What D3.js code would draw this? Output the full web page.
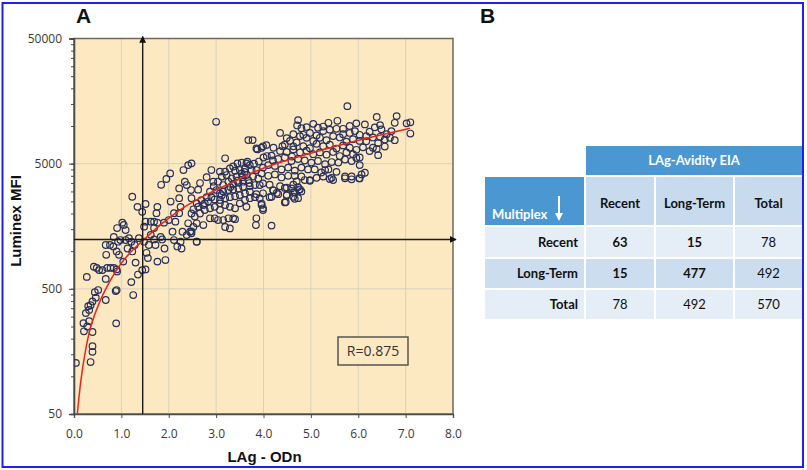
<!DOCTYPE html>
<html><head><meta charset="utf-8">
<script src="https://cdn.jsdelivr.net/npm/d3@7"></script>
<style>body{margin:0;background:#fff}svg{display:block}</style>
</head><body><svg id="c" width="807" height="470"></svg>
<script>
// ---------- data ----------
const xTickValues = [0, 1, 2, 3, 4, 5, 6, 7, 8];
const yTickValues = [50, 500, 5000, 50000];
const cutoffODn = 1.45;
const cutoffMFI = 1240;
const rText = "R=0.875";
const xTitle = "LAg - ODn";
const yTitle = "Luminex MFI";

// [LAg ODn, Luminex MFI]
const samples = [
[0.04,128],[0.35,130],[0.39,157],[0.39,174],[0.89,265],[0.39,226],[0.21,229],[0.28,250],[0.20,266],[0.32,276],
[0.25,320],[0.32,339],[0.35,370],[0.30,363],[0.39,396],[0.46,425],[0.44,470],[0.51,489],[0.67,407],[0.88,480],
[0.90,489],[1.25,446],[1.21,566],[0.27,623],[0.67,600],[0.42,752],[0.48,735],[0.53,706],[0.60,706],[0.70,735],
[0.77,735],[0.84,735],[0.90,715],[0.91,687],[1.04,825],[1.30,810],[1.44,706],[1.51,715],[1.35,650],[0.68,935],
[0.67,1120],[0.76,1120],[0.83,1090],[0.90,995],[0.95,935],[0.84,1300],[0.93,1190],[0.98,1227],[1.09,1227],[1.16,1270],
[1.21,1190],[1.13,1050],[1.23,995],[1.28,1120],[1.05,1620],[1.02,1690],[0.91,1530],[1.09,1475],[1.23,2720],[1.34,2260],
[1.44,2060],[1.51,2380],[1.76,2260],[1.74,2010],[1.84,3390],[2.04,2490],[2.22,2650],[2.22,3170],[1.37,1270],[1.48,1190],
[1.48,1570],[1.51,1720],[1.62,1720],[1.69,1530],[1.72,1120],[1.93,849],[1.76,825],[1.56,880],[1.58,1120],[1.83,1300],
[1.91,1050],[1.86,1240],[2.11,1227],[2.14,1720],[2.11,2010],[2.00,1772],[1.90,1690],[1.76,1690],[1.69,1720],[2.25,1190],
[2.18,1090],[2.29,1430],[2.25,2260],[2.22,2010],[1.62,1350],[1.69,1240],[1.53,970],[2.48,1440],[2.59,1190],[2.27,1050],
[2.08,1430],
[3.00,10800],[3.68,7715],[3.77,7715],[3.87,6500],[3.19,5520],[3.45,5030],[3.54,5090],[3.64,5030],[3.71,4870],[3.61,4580],
[3.50,4445],[3.40,4390],[3.29,4580],[3.19,4320],[3.08,4320],[3.12,3940],[3.22,4055],[3.33,3810],[3.43,3940],[3.54,4180],
[3.64,4055],[3.75,4445],[3.85,4445],[3.89,3810],[3.78,3940],[3.68,3700],[3.57,3590],[3.47,3520],[3.36,3440],[3.26,3590],
[3.15,3375],[3.04,3590],[2.94,3590],[2.90,4445],[2.48,5030],[2.41,4870],[2.31,4445],[2.03,4180],[1.95,3770],[2.34,3590],
[2.38,3375],[2.47,3077],[2.48,2650],[2.59,2410],[2.69,2560],[2.80,2700],[2.87,2990],[3.01,3077],[3.08,2890],[3.15,2990],
[3.26,3077],[3.36,3110],[3.47,3170],[3.57,3270],[3.71,3310],[3.82,3375],[3.92,3375],[3.71,2990],[3.61,2890],[3.50,2805],
[3.40,2740],[3.29,2700],[3.19,2650],[3.08,2560],[2.97,2590],[2.90,2700],[2.83,2490],[2.73,2335],[2.62,2260],[2.52,2160],
[2.48,2000],[2.55,1890],[2.66,2000],[2.76,2130],[2.87,2200],[2.97,2260],[3.08,2410],[3.19,2335],[3.29,2260],[3.40,2200],
[3.50,2410],[3.61,2560],[3.71,2650],[3.82,2700],[3.92,2650],[3.85,2850],[3.85,1830],[3.84,1616],[3.64,2260],[3.36,1830],
[3.26,1830],[3.15,1772],[3.04,1772],[3.19,1560],[3.29,1520],[3.40,1800],[2.73,1616],[2.59,1670],[2.52,1560],[2.41,1670],
[2.45,1430],[2.38,1345],[2.48,1390],[2.59,1190],[2.87,1830],[2.97,1830],[3.08,2130],[2.76,2410],
[2.66,3500],[2.80,3900],[2.95,3300],[2.62,3100],[3.55,3900],[3.90,5200],[4.00,5600],[3.80,5000],[3.60,4300],[3.45,3650],
[3.30,3250],[3.12,2800],[4.40,6900],[4.60,5700],[4.20,5300],[3.70,3500],
[4.17,1600],[3.99,2130],[3.96,2340],[4.47,2470],[4.17,2720],[4.20,3077],[4.31,2850],[4.45,3200],[4.59,3170],[4.66,2950],
[4.75,3077],[4.73,2650],[4.63,2720],[4.49,2820],[4.98,3700],[5.40,3770],[5.47,3700],[5.72,3820],[5.86,3950],[6.02,3820],
[6.07,4100],
[5.77,14400],[6.39,11800],[6.81,12000],[7.02,10500],[7.10,10700],[7.10,8700],[6.77,10600],[6.46,10160],[6.49,9400],[6.35,9750],
[6.24,9000],[6.14,10300],[5.96,10500],[5.82,10000],[5.68,9500],[5.56,11000],[5.37,10600],[5.26,9900],[5.15,9700],[5.05,10400],
[4.91,9800],[4.80,9600],[4.73,11140],[4.71,10100],[4.84,8500],[4.98,8800],[5.12,8400],[5.26,9100],[5.40,9350],[5.54,9500],
[5.68,8600],[5.82,8800],[5.93,9100],[6.03,8500],[6.17,8300],[6.31,8100],[6.46,8200],[6.56,7800],[6.67,8050],[6.77,7700],
[6.70,9100],[6.60,8600],[6.42,7300],[6.31,6700],[6.17,7550],[6.03,7600],[5.89,7850],[5.75,7500],[5.61,8100],[5.47,8300],
[5.33,7700],[5.19,8050],[5.05,7600],[4.91,8050],[4.77,8300],[4.63,8600],[4.49,8000],[4.35,8800],[4.45,7100],[4.56,7600],
[4.70,7400],[4.84,6900],[4.98,6650],[5.12,7200],[5.26,6900],[5.40,7100],[5.54,6600],[5.68,7000],[5.82,6700],[5.96,6450],
[6.10,6750],[6.24,6300],[6.39,6550],[6.56,6850],[6.42,5850],[6.03,5600],[5.89,5950],[5.75,6150],[5.61,5750],[5.47,6200],
[5.33,5900],[5.19,6150],[5.05,5950],[4.91,6350],[4.77,6150],[4.63,6500],[4.49,6200],[4.35,6300],[4.21,6700],[4.06,7035],
[3.96,6700],[4.17,5800],[4.31,5450],[4.45,5600],[4.59,5250],[4.73,5450],[4.87,5300],[5.01,5100],[5.15,5250],[5.30,4950],
[5.44,5150],[5.58,5100],[5.72,5400],[5.86,5250],[5.96,5550],[6.03,4870],[6.14,4230],[6.03,3810],[5.86,3750],[5.72,3950],
[5.54,4300],[5.44,3850],[5.37,4500],[5.22,4250],[5.08,4500],[4.94,4500],[4.80,4650],[4.66,4400],[4.52,4650],[4.38,4500],
[4.24,4800],[4.10,4870],[3.99,4650],[3.96,4180],[4.10,4000],[4.24,4100],[4.38,3880],[4.52,4000],[4.66,4000],[4.80,3950],
[4.98,3650],[5.12,3850],[5.26,3950],[5.30,4445],[3.99,3480],[4.13,3400],[4.21,3050],[4.35,3300],[4.49,3220],[4.63,3400],
[4.73,3250],[4.80,3000],[4.63,2950],[4.49,2780],[4.28,2920],[4.13,2700],[3.99,2900],[3.96,2400],[3.99,2200],[4.45,2450],
[4.66,2620],[4.77,3120],[4.70,3600],[4.87,3700],
[3.85,6610],[3.99,6880],[4.07,5750],[4.63,6880],[3.36,4750],[3.66,5180]
];

// fitted trend line [ODn, MFI]
const fitCurve = [
[0.07,50],[0.14,94],[0.25,170],[0.35,255],[0.53,390],[0.70,530],[0.88,690],[1.05,860],[1.27,1050],[1.48,1240],
[1.69,1470],[1.90,1720],[2.11,1960],[2.32,2260],[2.87,2950],[3.29,3450],[3.71,4150],[4.06,4730],[4.63,5520],
[5.33,6600],[6.03,7750],[6.74,8950],[7.09,9580]
];

// table
const tableTitle = "LAg-Avidity EIA";
const rowHeader = "Multiplex";
const colLabels = ["Recent", "Long-Term", "Total"];
const rowLabels = ["Recent", "Long-Term", "Total"];
const counts = [[63, 15, 78], [15, 477, 492], [78, 492, 570]];
const boldCell = [[true, true, false], [true, true, false], [false, false, false]];

// ---------- drawing ----------
const svg = d3.select("#c");
svg.append("rect").attr("x",0).attr("y",0).attr("width",807).attr("height",470).attr("fill","#fff");
svg.append("rect").attr("x",2.5).attr("y",3).attr("width",800.5).attr("height",464)
  .attr("fill","none").attr("stroke","#1f1ff0").attr("stroke-width",2);

const L = 74, R = 453, T = 38.5, B = 414;
const x = d3.scaleLinear().domain([0, 8]).range([L, R]);
const y = d3.scaleLog().domain([50, 50000]).range([B, T]);

const defs = svg.append("defs");
defs.append("clipPath").attr("id","plotclip").append("rect")
  .attr("x",L).attr("y",T).attr("width",R-L).attr("height",B-T);
defs.append("marker").attr("id","arr").attr("viewBox","0 0 10 10").attr("refX",9).attr("refY",5)
  .attr("markerWidth",7).attr("markerHeight",7).attr("markerUnits","userSpaceOnUse").attr("orient","auto")
  .append("path").attr("d","M0,0L10,5L0,10z").attr("fill","#111");

const g = svg.append("g");
g.append("rect").attr("x",L).attr("y",T).attr("width",R-L).attr("height",B-T).attr("fill","#fce9c1");

// grid
g.append("g").selectAll("line").data(xTickValues.slice(1, -1)).join("line")
  .attr("x1",d=>x(d)).attr("x2",d=>x(d)).attr("y1",T).attr("y2",B)
  .attr("stroke","#d9d1bf").attr("stroke-width",1);
g.append("g").selectAll("line").data(yTickValues.slice(1, -1)).join("line")
  .attr("x1",L).attr("x2",R).attr("y1",d=>y(d)).attr("y2",d=>y(d))
  .attr("stroke","#d9d1bf").attr("stroke-width",1);

// frame
g.append("rect").attr("x",L).attr("y",T).attr("width",R-L).attr("height",B-T)
  .attr("fill","none").attr("stroke","#716858").attr("stroke-width",1.5);

// axes
const xAxis = d3.axisBottom(x).tickValues(xTickValues).tickFormat(d3.format(".1f")).tickSize(4).tickPadding(11);
const gx = g.append("g").attr("transform",`translate(0,${B})`).call(xAxis);
const minorY = [];
yTickValues.slice(0, -1).forEach(v => { for (let k = 1; k <= 10; k++) minorY.push(v * k); });
const gym = g.append("g").attr("transform",`translate(${L},0)`)
  .call(d3.axisLeft(y).tickValues(minorY).tickSize(3).tickFormat(""));
const gy = g.append("g").attr("transform",`translate(${L},0)`)
  .call(d3.axisLeft(y).tickValues(yTickValues).tickFormat(d3.format("d")).tickSize(5).tickPadding(7));
[gx, gy, gym].forEach(a => {
  a.select(".domain").attr("stroke","#4a4a4a").attr("stroke-width",1.3);
  a.selectAll(".tick line").attr("stroke","#4a4a4a");
  a.selectAll("text").attr("font-family","'Open Sans', sans-serif").attr("font-size",12).attr("fill","#3a3a3a");
});

// points
const pg = g.append("g").attr("clip-path","url(#plotclip)");
pg.selectAll("circle").data(samples).join("circle")
  .attr("cx",d=>x(d[0])).attr("cy",d=>y(d[1])).attr("r",3.3)
  .attr("fill","none").attr("stroke","#28315c").attr("stroke-width",1.2);

// fit curve
pg.append("path").datum(fitCurve)
  .attr("d", d3.line().x(d=>x(d[0])).y(d=>y(d[1])).curve(d3.curveBasis))
  .attr("fill","none").attr("stroke","#e8261e").attr("stroke-width",1.5);

// cut-off lines
g.append("line").attr("x1",x(cutoffODn)).attr("x2",x(cutoffODn)).attr("y1",B).attr("y2",T-2)
  .attr("stroke","#1a1a1a").attr("stroke-width",1.4).attr("marker-end","url(#arr)");
g.append("line").attr("x1",L).attr("x2",R+3).attr("y1",y(cutoffMFI)).attr("y2",y(cutoffMFI))
  .attr("stroke","#1a1a1a").attr("stroke-width",1.4).attr("marker-end","url(#arr)");

// R box
g.append("rect").attr("x",338).attr("y",337).attr("width",70).attr("height",28)
  .attr("fill","#fce9c1").attr("stroke","#555").attr("stroke-width",1.5);
g.append("text").attr("x",373).attr("y",356).attr("text-anchor","middle")
  .attr("font-family","'Open Sans', sans-serif").attr("font-size",14).attr("fill","#333").text(rText);

// titles
svg.append("text").attr("x",(L+R)/2+1).attr("y",462).attr("text-anchor","middle")
  .attr("font-family","'Liberation Sans', Arial, sans-serif").attr("font-weight","bold").attr("font-size",15)
  .attr("fill","#111").text(xTitle);
svg.append("text").attr("transform","translate(21,221) rotate(-90)").attr("text-anchor","middle")
  .attr("font-family","'Liberation Sans', Arial, sans-serif").attr("font-weight","bold").attr("font-size",15)
  .attr("fill","#111").text(yTitle);
svg.append("text").attr("x",76).attr("y",23).attr("font-family","'Liberation Sans', Arial, sans-serif")
  .attr("font-weight","bold").attr("font-size",21).attr("fill","#111").text("A");
svg.append("text").attr("x",480).attr("y",23).attr("font-family","'Liberation Sans', Arial, sans-serif")
  .attr("font-weight","bold").attr("font-size",21).attr("fill","#111").text("B");

// ---------- table ----------
const tg = svg.append("g");
const colX = [485, 586, 656, 735, 802];
const gap = 2;
const rowsY = [[227,257],[259,288],[290,319]];
const blue = "#4a97d2", midBlue = "#c8daed", lightBlue = "#e5edf6", rowBlue = "#cbddef";
const tf = "Lato, 'Open Sans', sans-serif";

tg.append("rect").attr("x",colX[1]).attr("y",146).attr("width",colX[4]-colX[1]).attr("height",29).attr("fill",blue);
tg.append("text").attr("x",(colX[1]+colX[4])/2).attr("y",164.5).attr("text-anchor","middle")
  .attr("font-family",tf).attr("font-weight","bold").attr("font-size",13).attr("fill","#fff").text(tableTitle);

tg.append("rect").attr("x",colX[0]).attr("y",177).attr("width",colX[1]-colX[0]-gap).attr("height",48).attr("fill",blue);
tg.append("text").attr("x",492).attr("y",219).attr("font-family",tf).attr("font-weight","bold")
  .attr("font-size",13).attr("fill","#fff").text(rowHeader);
tg.append("line").attr("x1",559).attr("x2",559).attr("y1",196).attr("y2",219)
  .attr("stroke","#fff").attr("stroke-width",2);
tg.append("path").attr("d","M555,213L563,213L559,221z").attr("fill","#fff");

colLabels.forEach((c, i) => {
  const x0 = colX[i+1], x1 = colX[i+2] - (i < 2 ? gap : 0);
  tg.append("rect").attr("x",x0).attr("y",177).attr("width",x1-x0).attr("height",48).attr("fill",midBlue);
  tg.append("text").attr("x",(x0+x1)/2).attr("y",208).attr("text-anchor","middle")
    .attr("font-family",tf).attr("font-weight","bold").attr("font-size",13).attr("fill","#111").text(c);
});

rowLabels.forEach((r, j) => {
  const [y0, y1] = rowsY[j];
  const fill = j === 1 ? rowBlue : lightBlue;
  const base = (y0 + y1) / 2 + 4.5;
  tg.append("rect").attr("x",colX[0]).attr("y",y0).attr("width",colX[1]-colX[0]-gap).attr("height",y1-y0).attr("fill",fill);
  tg.append("text").attr("x",578).attr("y",base).attr("text-anchor","end")
    .attr("font-family",tf).attr("font-weight","bold").attr("font-size",13).attr("fill","#111").text(r);
  counts[j].forEach((v, i) => {
    const x0 = colX[i+1], x1 = colX[i+2] - (i < 2 ? gap : 0);
    tg.append("rect").attr("x",x0).attr("y",y0).attr("width",x1-x0).attr("height",y1-y0).attr("fill",fill);
    tg.append("text").attr("x",(x0+x1)/2).attr("y",base).attr("text-anchor","middle")
      .attr("font-family",tf).attr("font-weight",boldCell[j][i] ? "bold" : "normal")
      .attr("font-size",13).attr("fill","#111").text(v);
  });
});
</script>
</body></html>
